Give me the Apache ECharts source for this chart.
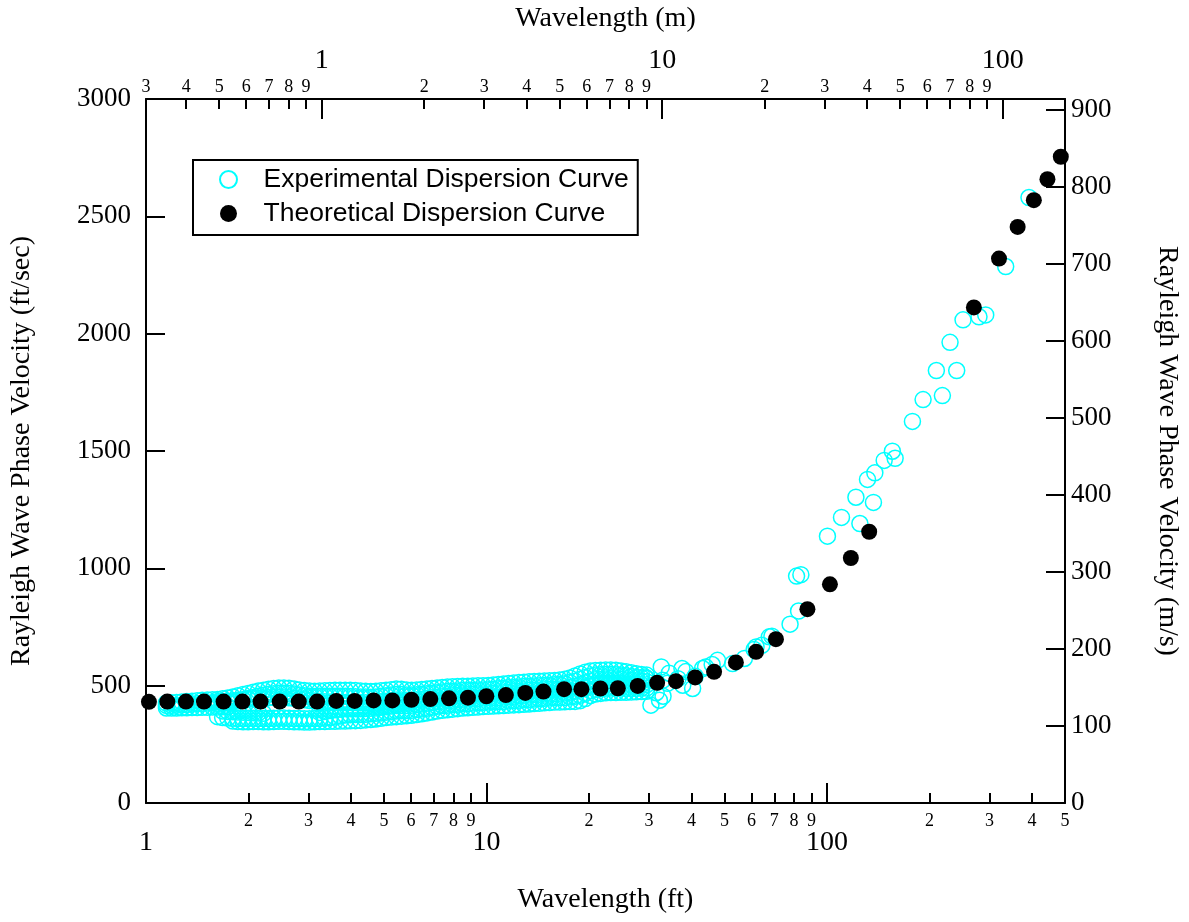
<!DOCTYPE html>
<html><head><meta charset="utf-8">
<script src="https://cdn.jsdelivr.net/npm/echarts@6/dist/echarts.min.js"></script>
<style>html,body{margin:0;padding:0;background:#fff}#c{width:1189px;height:922px}</style>
</head><body><div id="c"></div>
<script>
// ---- tick labels ----
const bottomMinorTicks = [2,3,4,5,6,7,8,9,20,30,40,50,60,70,80,90,200,300,400];
const bottomMinorLabels = [2,3,4,5,6,7,8,9,20,30,40,50,60,70,80,90,200,300,400,500];
const bottomMajorTicks = [1,10,100];
const topMinorTicks = [0.4,0.5,0.6,0.7,0.8,0.9,2,3,4,5,6,7,8,9,20,30,40,50,60,70,80,90];
const topMinorLabels = [0.3048,0.4,0.5,0.6,0.7,0.8,0.9,2,3,4,5,6,7,8,9,20,30,40,50,60,70,80,90];
const topMajorTicks = [1,10,100];

// ---- experimental dispersion data: dense band, sampled wavelengths (ft) ----
const bandWavelengthFt = [
1.072,1.109,1.148,1.189,1.230,1.274,1.318,1.365,1.413,1.462,
1.514,1.567,1.622,1.679,1.738,1.799,1.862,1.928,1.995,2.065,
2.138,2.213,2.291,2.371,2.455,2.541,2.630,2.723,2.818,2.917,
3.020,3.126,3.236,3.350,3.467,3.589,3.715,3.846,3.981,4.121,
4.266,4.416,4.571,4.732,4.898,5.070,5.248,5.433,5.623,5.821,
6.026,6.237,6.457,6.683,6.918,7.161,7.413,7.674,7.943,8.222,
8.511,8.810,9.120,9.441,9.772,10.12,10.47,10.84,11.22,11.61,
12.02,12.45,12.88,13.34,13.80,14.29,14.79,15.31,15.85,16.41,
16.98,17.58,18.20,18.84,19.50,20.18,20.89,21.63,22.39,23.17,
23.99,24.83,25.70,26.61,27.54,28.51,29.51];
// phase velocities (ft/sec) of the overlapping experimental traces
const bandTraceA = [
null,null,426,427,428,430,432,434,436,438,
439,440,441,444,447,452,457,462,467,472,
477,481,485,488,490,490,489,486,482,479,
477,476,477,478,479,480,481,481,480,479,
477,476,475,476,478,480,483,486,485,482,
481,482,484,486,488,490,492,494,495,496,
497,498,499,500,500,501,503,505,507,509,
511,513,515,517,518,519,520,521,522,524,
527,533,541,550,557,562,565,566,567,567,
566,563,559,555,551,548,545];
const bandTraceB = [
null,null,416,416,417,418,420,422,424,425,
426,427,425,426,428,431,435,440,445,450,
455,459,463,466,468,468,467,464,460,457,
455,454,455,455,455,455,455,455,454,453,
452,452,451,452,455,457,460,462,462,460,
460,461,463,466,468,470,473,475,476,477,
479,480,481,482,482,483,485,487,489,491,
492,494,496,498,499,500,501,502,504,505,
508,513,519,527,535,541,545,546,548,548,
547,545,542,539,536,533,531];
const bandTraceC = [
null,null,null,null,null,null,null,null,null,null,
null,null,432,433,434,436,438,440,442,444,
446,448,449,450,450,449,448,446,443,440,
437,435,433,431,430,429,428,428,428,428,
427,427,427,429,431,434,436,439,439,438,
438,440,442,445,448,451,453,455,457,458,
460,461,463,464,464,465,467,469,470,472,
474,475,477,479,480,481,483,484,485,486,
489,493,498,504,512,520,525,526,528,529,
528,527,524,522,520,519,517];
const bandTraceD = [
null,null,null,null,null,null,null,null,null,null,
null,null,null,392,390,389,388,387,386,385,
384,382,null,null,null,null,null,null,null,null,
null,null,386,390,394,397,400,402,402,402,
402,403,404,405,408,410,413,415,416,416,
417,419,422,425,428,431,434,436,438,440,
442,443,444,445,447,448,449,450,452,454,
455,457,459,460,462,463,464,465,467,468,
469,472,476,482,490,500,504,507,509,509,
509,508,507,506,505,504,504];
const bandTraceE = [
null,null,null,null,null,null,null,null,null,null,
null,null,368,364,362,361,360,360,361,361,
360,360,360,361,362,362,361,360,360,359,
359,360,361,362,364,367,371,375,376,377,
377,378,380,382,384,387,389,392,393,394,
395,398,401,404,408,412,415,417,419,421,
423,424,426,427,429,430,431,432,433,435,
437,438,440,441,443,444,446,447,448,449,
450,452,455,459,467,479,484,487,489,490,
490,490,489,489,489,490,490];
const bandTraceF = [
null,null,405,405,405,406,406,407,407,408,
408,409,409,410,411,349,347,346,346,347,
347,346,346,347,348,348,347,346,346,345,
345,346,347,347,348,348,349,349,350,351,
352,354,356,358,361,364,366,368,370,372,
374,377,380,384,388,392,395,397,400,402,
405,406,408,409,411,412,413,414,415,417,
418,419,421,422,424,425,427,428,430,430,
431,432,433,436,445,458,464,467,470,471,
471,472,472,473,474,475,476];
// individual experimental points at longer wavelengths
const expScatterFt = [29.2,30.4,31.5,32.2,32.6,32.9,33.0,34.0,34.4,36.5,37.5,37.7,38.5,40.3,41.0,43.1,44.0,46.0,47.7,52.8,57.2,61.1,61.9,64.4,67.7,68.9,77.9,81.4,82.5,83.8,100.3,110.3,121.6,124.9,131.5,136.9,138.2,147.2,155.6,158.5,178.2,191.5,209.5,218.2,229.8,240.4,250.9,279.5,292.5,334.8,391.9];
const expScatterVel = [537,417,470,438,580,523,455,510,553,530,573,502,560,488,540,573,580,590,608,594,616,654,665,672,708,711,762,967,818,973,1137,1217,1303,1191,1379,1281,1407,1460,1499,1469,1626,1719,1843,1736,1963,1843,2059,2072,2080,2286,2580];

// ---- theoretical dispersion curve ----
const theoryFt = [1.02,1.155,1.31,1.48,1.69,1.92,2.17,2.47,2.81,3.18,3.62,4.10,4.66,5.29,6.02,6.84,7.76,8.82,9.99,11.4,13.0,14.7,16.9,19.0,21.6,24.3,27.8,31.7,36.0,41.0,46.6,54.0,61.9,70.8,87.6,102,117.5,133,270,320,363,405,444,486];
const theoryVel = [431,432,432,432,432,432,432,432,432,432,435,435,437,437,440,443,446,449,455,460,469,475,485,485,488,489,499,512,519,535,559,599,644,698,826,932,1044,1156,2112,2320,2455,2569,2658,2754];

// ---- build ----
const SERIF = "'Liberation Serif','Times New Roman',Times,serif";
const SANS = "'Liberation Sans',Arial,Helvetica,sans-serif";
const lead = v => String(Math.round(v / Math.pow(10, Math.floor(Math.log10(v) + 1e-9))));

const expData = [];
[bandTraceA, bandTraceB, bandTraceC, bandTraceD, bandTraceE, bandTraceF].forEach(tr => {
  tr.forEach((v, i) => { if (v != null) expData.push([bandWavelengthFt[i], v]); });
});
expScatterFt.forEach((f, i) => expData.push([f, expScatterVel[i]]));
const theoryData = theoryFt.map((f, i) => [f, theoryVel[i]]);

const blk = '#000';
const lineS = {color: blk, width: 2};
function logAxis(o) {
  return Object.assign({
    type: 'log', logBase: 10,
    splitLine: {show: false}, minorTick: {show: false}, minorSplitLine: {show: false}
  }, o);
}

const chart = echarts.init(document.getElementById('c'), null, {renderer: 'canvas'});
chart.setOption({
  animation: false,
  backgroundColor: '#fff',
  grid: {left: 146, right: 123, top: 98, bottom: 119, containLabel: false},
  legend: {
    left: 193, top: 160, orient: 'vertical',
    padding: [6, 9, 8, 26], itemGap: 7, itemWidth: 60, itemHeight: 17,
    borderColor: blk, borderWidth: 2, borderRadius: 0,
    selectedMode: false,
    textStyle: {fontFamily: SANS, fontSize: 26.5, color: blk, lineHeight: 26},
    data: ['Experimental Dispersion Curve', 'Theoretical Dispersion Curve']
  },
  xAxis: [
    logAxis({
      min: 1, max: 500, position: 'bottom',
      name: 'Wavelength (ft)', nameLocation: 'middle', nameGap: 83,
      nameTextStyle: {fontFamily: SERIF, fontSize: 28, color: blk},
      axisLine: {show: true, lineStyle: lineS},
      axisTick: {show: true, inside: true, length: 10, lineStyle: lineS, customValues: bottomMinorTicks},
      axisLabel: {show: true, customValues: bottomMinorLabels, formatter: lead, fontFamily: SERIF, fontSize: 18, color: blk, margin: 9}
    }),
    logAxis({
      min: 1, max: 500, position: 'bottom',
      axisLine: {show: false},
      axisTick: {show: true, inside: true, length: 20, lineStyle: lineS, customValues: bottomMajorTicks},
      axisLabel: {show: true, customValues: bottomMajorTicks, formatter: v => String(Math.round(v)), fontFamily: SERIF, fontSize: 28, color: blk, margin: 26}
    }),
    logAxis({
      min: 0.3048, max: 152.4, position: 'top',
      name: 'Wavelength (m)', nameLocation: 'middle', nameGap: 66,
      nameTextStyle: {fontFamily: SERIF, fontSize: 28, color: blk},
      axisLine: {show: true, lineStyle: lineS},
      axisTick: {show: true, inside: true, length: 10, lineStyle: lineS, customValues: topMinorTicks},
      axisLabel: {show: true, customValues: topMinorLabels, formatter: lead, fontFamily: SERIF, fontSize: 18, color: blk, margin: 3}
    }),
    logAxis({
      min: 0.3048, max: 152.4, position: 'top',
      axisLine: {show: false},
      axisTick: {show: true, inside: true, length: 20, lineStyle: lineS, customValues: topMajorTicks},
      axisLabel: {show: true, customValues: topMajorTicks, formatter: v => String(Math.round(v)), fontFamily: SERIF, fontSize: 28, color: blk, margin: 24}
    })
  ],
  yAxis: [
    {
      type: 'value', min: 0, max: 3000, interval: 500, position: 'left',
      name: 'Rayleigh Wave Phase Velocity (ft/sec)', nameLocation: 'middle', nameGap: 110, nameRotate: 90,
      nameTextStyle: {fontFamily: SERIF, fontSize: 28, color: blk},
      axisLine: {show: true, lineStyle: lineS},
      axisTick: {show: true, inside: true, length: 19, lineStyle: lineS},
      axisLabel: {fontFamily: SERIF, fontSize: 27, color: blk, margin: 15, formatter: v => String(Math.round(v))},
      splitLine: {show: false}
    },
    {
      type: 'value', min: 0, max: 914.4, interval: 100, position: 'right',
      name: 'Rayleigh Wave Phase Velocity (m/s)', nameLocation: 'middle', nameGap: 88, nameRotate: -90,
      nameTextStyle: {fontFamily: SERIF, fontSize: 28, color: blk},
      axisLine: {show: true, lineStyle: lineS},
      axisTick: {show: true, inside: true, length: 19, lineStyle: lineS},
      axisLabel: {fontFamily: SERIF, fontSize: 27, color: blk, margin: 6, showMaxLabel: false,
        formatter: v => (Math.abs(v - Math.round(v / 100) * 100) < 1e-6 ? String(Math.round(v)) : '')},
      splitLine: {show: false}
    }
  ],
  series: [
    {
      name: 'Experimental Dispersion Curve', type: 'scatter', xAxisIndex: 0, yAxisIndex: 0,
      data: expData, symbol: 'circle', symbolSize: 16, z: 2,
      itemStyle: {color: 'rgba(255,255,255,0)', borderColor: '#00FFFF', borderWidth: 1.5, opacity: 1},
      emphasis: {disabled: true}
    },
    {
      name: 'Theoretical Dispersion Curve', type: 'scatter', xAxisIndex: 0, yAxisIndex: 0,
      data: theoryData, symbol: 'circle', symbolSize: 16, z: 3,
      itemStyle: {color: '#000', opacity: 1},
      emphasis: {disabled: true}
    }
  ]
});
</script>
</body></html>
